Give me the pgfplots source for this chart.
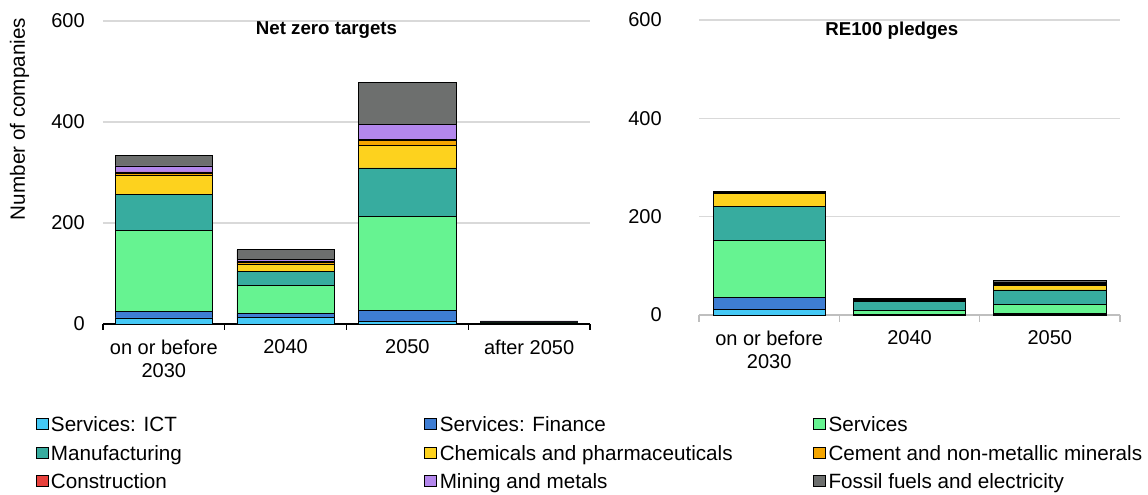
\documentclass[border=0pt]{standalone}
\usepackage{fontspec}
\setmainfont{Liberation Sans}
\usepackage{pgfplots}
\usepackage{pgfplotstable}
\pgfplotsset{compat=1.18}

\definecolor{cICT}{HTML}{44C8F5}
\definecolor{cFin}{HTML}{3E7DD3}
\definecolor{cServ}{HTML}{66F391}
\definecolor{cManu}{HTML}{37AC9F}
\definecolor{cChem}{HTML}{FDD21E}
\definecolor{cCem}{HTML}{F4A500}
\definecolor{cCons}{HTML}{E8413C}
\definecolor{cMin}{HTML}{B387EC}
\definecolor{cFos}{HTML}{6D6F6E}
\definecolor{gridgray}{HTML}{D9D9D9}
\definecolor{axgray}{HTML}{BFBFBF}

\pgfplotstableread{
x ict fin serv manu chem cem cons min fos
0 12 12 161 71 38 4 3 12 20
1 13 7 56 28 14 3 2 5 19
2 5 22 186 96 44 10 2 30 84
3 0 1 1 1 0 0 0 1 2
}\netzero

\pgfplotstableread{
x ict fin serv manu chem cem cons min fos
0 11 24 116 69 28 1 1 1 1
1 1 1 8 17 2 1 1 1 2
2 1 2 19 29 9 3 2 2 3
}\rehundred

\pgfplotsset{
  base/.style={
    scale only axis, ybar stacked, bar width=0.8,
    ymin=0, ymax=600, ytick={0,200,400,600},
    axis lines*=left, y axis line style={draw=none},
    ymajorgrids, grid style={color=gridgray, line width=1pt},
    major tick length=0pt, minor tick length=4.5pt, tick align=outside,
    tick label style={font=\fontsize{15}{17.25}\selectfont},
    /pgf/number format/assume math mode=true,
    yticklabel style={anchor=east, inner sep=0pt, xshift=-13.5pt},
    xticklabel style={anchor=north, inner sep=0pt, align=center, yshift=-11.5pt},
    every axis plot/.append style={draw=black, line width=0.6pt},
    title style={font=\bfseries\fontsize{14}{16}\selectfont, anchor=center, inner sep=0pt},
    clip=false,
  }
}

\newcommand{\lentry}[1]{\makebox[282pt][l]{\hspace{2pt}#1\rule[-3pt]{0pt}{16pt}}}

\begin{document}
\begin{tikzpicture}
\useasboundingbox (0,0) rectangle (861pt,371.25pt);

\begin{axis}[base,
  at={(77.25pt,128.25pt)}, anchor=south west,
  width=365.25pt, height=227.25pt,
  xmin=-0.5, xmax=3.5,
  xtick={0,1,2,3}, xticklabels={{on or before\\2030},2040,2050,after 2050},
  minor xtick={-0.5,0.5,1.5,2.5,3.5},
  x axis line style={black, line width=1pt},
  minor tick style={black, line width=1pt},
  title={Net zero targets},
  title style={at={(0.459,0.945)}},
  legend columns=3,
  legend style={at={(-0.1386,-0.298)}, anchor=north west, draw=none,
    inner sep=0pt, outer sep=0pt, row sep=7pt, column sep=0pt,
    font=\fontsize{15.5}{18}\selectfont, cells={anchor=west},
    nodes={inner sep=0pt}},
  legend image code/.code={\draw[#1, draw=black, line width=0.6pt] (0pt,-4.2pt) rectangle (9pt,4.2pt);},
]
\addplot[fill=cICT] table[x=x,y=ict] {\netzero};
\addlegendentry{\lentry{Services: ICT}}
\addplot[fill=cFin] table[x=x,y=fin] {\netzero};
\addlegendentry{\lentry{Services: Finance}}
\addplot[fill=cServ] table[x=x,y=serv] {\netzero};
\addlegendentry{\lentry{Services}}
\addplot[fill=cManu] table[x=x,y=manu] {\netzero};
\addlegendentry{\lentry{Manufacturing}}
\addplot[fill=cChem] table[x=x,y=chem] {\netzero};
\addlegendentry{\lentry{Chemicals and pharmaceuticals}}
\addplot[fill=cCem] table[x=x,y=cem] {\netzero};
\addlegendentry{\lentry{Cement and non-metallic minerals}}
\addplot[fill=cCons] table[x=x,y=cons] {\netzero};
\addlegendentry{\lentry{Construction}}
\addplot[fill=cMin] table[x=x,y=min] {\netzero};
\addlegendentry{\lentry{Mining and metals}}
\addplot[fill=cFos] table[x=x,y=fos] {\netzero};
\addlegendentry{\lentry{Fossil fuels and electricity}}
\end{axis}

\begin{axis}[base,
  at={(524.25pt,135pt)}, anchor=south west,
  width=315.75pt, height=221.25pt,
  xmin=-0.5, xmax=2.5,
  xtick={0,1,2}, xticklabels={{on or before\\2030},2040,2050},
  minor xtick={-0.5,0.5,1.5,2.5},
  minor tick length=5pt,
  x axis line style={axgray, line width=1pt},
  minor tick style={axgray, line width=1pt},
  yticklabel style={xshift=-14.25pt},
  title={RE100 pledges},
  title style={at={(0.458,0.936)}},
]
\addplot[fill=cICT] table[x=x,y=ict] {\rehundred};
\addplot[fill=cFin] table[x=x,y=fin] {\rehundred};
\addplot[fill=cServ] table[x=x,y=serv] {\rehundred};
\addplot[fill=cManu] table[x=x,y=manu] {\rehundred};
\addplot[fill=cChem] table[x=x,y=chem] {\rehundred};
\addplot[fill=cCem] table[x=x,y=cem] {\rehundred};
\addplot[fill=cCons] table[x=x,y=cons] {\rehundred};
\addplot[fill=cMin] table[x=x,y=min] {\rehundred};
\addplot[fill=cFos] table[x=x,y=fos] {\rehundred};
\end{axis}

\node[rotate=90, inner sep=0pt, font=\fontsize{15.5}{18}\selectfont] at (14.6pt,282pt) {Number of companies};
\end{tikzpicture}
\end{document}
